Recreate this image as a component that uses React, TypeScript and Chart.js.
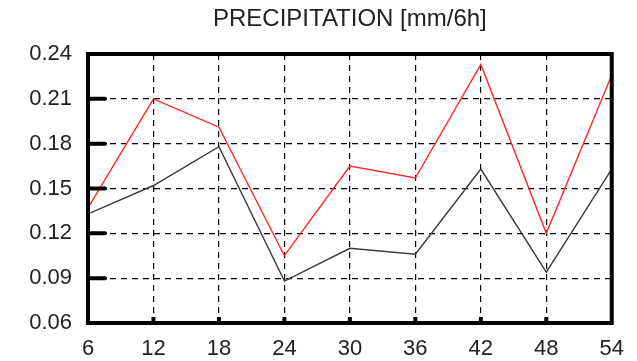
import React, { useEffect, useRef } from "react";
import { Chart, registerables } from "chart.js";

Chart.register(...registerables);

const hours = [6, 12, 18, 24, 30, 36, 42, 48, 54];
const redSeries = [0.137, 0.21, 0.191, 0.105, 0.165, 0.157, 0.233, 0.12, 0.226];
const blackSeries = [0.133, 0.152, 0.178, 0.088, 0.11, 0.106, 0.163, 0.094, 0.163];
const titleText = "PRECIPITATION [mm/6h]";
const yMin = 0.06;
const yMax = 0.24;
const yStep = 0.03;
const xMin = 6;
const xMax = 54;
const xStep = 6;

const FONT = "'Liberation Sans', Arial, Helvetica, sans-serif";

const framePlugin = {
  id: "frameAndTitle",
  afterDraw(chart: any) {
    const { ctx, chartArea, scales } = chart;
    const { left, right, top, bottom } = chartArea;
    ctx.save();
    // title
    ctx.fillStyle = "#222";
    ctx.font = `24px ${FONT}`;
    ctx.textAlign = "center";
    ctx.textBaseline = "alphabetic";
    ctx.fillText(titleText, (left + right) / 2, 26);
    // frame
    ctx.strokeStyle = "#000";
    ctx.lineWidth = 4;
    ctx.setLineDash([]);
    ctx.strokeRect(left, top, right - left, bottom - top);
    // y tick marks
    ctx.lineCap = "round";
    scales.y.ticks.forEach((t: any) => {
      if (t.value <= yMin + 1e-9 || t.value >= yMax - 1e-9) return;
      const y = scales.y.getPixelForValue(t.value);
      ctx.beginPath();
      ctx.moveTo(left, y);
      ctx.lineTo(left + 17, y);
      ctx.stroke();
    });
    // x tick marks
    ctx.lineCap = "butt";
    scales.x.ticks.forEach((t: any) => {
      if (t.value <= xMin || t.value >= xMax) return;
      const x = scales.x.getPixelForValue(t.value);
      ctx.beginPath();
      ctx.moveTo(x, bottom);
      ctx.lineTo(x, bottom - 6);
      ctx.stroke();
    });
    ctx.restore();
  },
};

export default function App() {
  const canvasRef = useRef<HTMLCanvasElement | null>(null);

  useEffect(() => {
    document.body.style.margin = "0";
    const canvas = canvasRef.current;
    if (!canvas) return;
    const chart = new Chart(canvas, {
      type: "line",
      data: {
        datasets: [
          {
            label: "red",
            data: hours.map((h, i) => ({ x: h, y: redSeries[i] })),
            borderColor: "#ff2a2a",
            borderWidth: 1.4,
            pointRadius: 0,
            tension: 0,
            fill: false,
          },
          {
            label: "black",
            data: hours.map((h, i) => ({ x: h, y: blackSeries[i] })),
            borderColor: "#3a3a3a",
            borderWidth: 1.4,
            pointRadius: 0,
            tension: 0,
            fill: false,
          },
        ],
      },
      options: {
        responsive: false,
        animation: false,
        devicePixelRatio: 1,
        layout: { padding: { top: 54, right: 17, left: 0, bottom: 0 } },
        plugins: {
          legend: { display: false },
          tooltip: { enabled: false },
          title: { display: false },
        },
        scales: {
          x: {
            type: "linear",
            min: xMin,
            max: xMax,
            ticks: {
              stepSize: xStep,
              color: "#222",
              font: { family: FONT, size: 22 },
              padding: 13,
              maxRotation: 0,
            },
            grid: { color: "#000", lineWidth: 1.2, drawTicks: false },
            border: { display: false, dash: [6, 5] },
            afterFit(s: any) {
              s.height = 38;
            },
          },
          y: {
            min: yMin,
            max: yMax,
            ticks: {
              stepSize: yStep,
              color: "#222",
              font: { family: FONT, size: 22 },
              padding: 16,
              callback: (v: any) => Number(v).toFixed(2),
            },
            grid: { color: "#000", lineWidth: 1.2, drawTicks: false },
            border: { display: false, dash: [6, 5] },
            afterFit(s: any) {
              s.width = 88;
            },
          },
        },
      },
      plugins: [framePlugin],
    } as any);
    return () => chart.destroy();
  }, []);

  return (
    <div style={{ width: 637, height: 361, background: "#fff" }}>
      <canvas ref={canvasRef} width={637} height={361} />
    </div>
  );
}
